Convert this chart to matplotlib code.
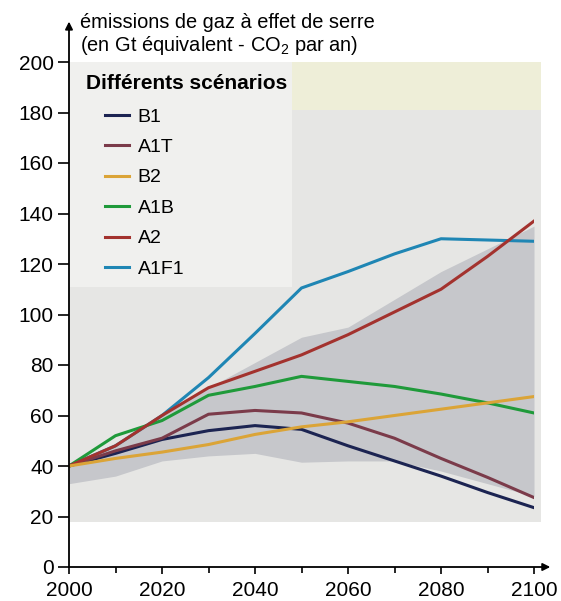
# Émissions de gaz à effet de serre selon les scénarios du GIEC (2000-2100)
import matplotlib.pyplot as plt
from matplotlib.patches import Rectangle
from matplotlib.lines import Line2D

plt.rcParams['font.family'] = 'Liberation Sans'
plt.rcParams['mathtext.fontset'] = 'custom'
plt.rcParams['mathtext.rm'] = 'Liberation Sans'

# Données (Gt équivalent CO2 par an)
annees = [2000, 2010, 2020, 2030, 2040, 2050, 2060, 2070, 2080, 2090, 2100]
B1 = [40, 45, 50.5, 54, 56, 54.5, 48, 42, 36, 29.5, 23.5]
A1T = [40, 46, 51, 60.5, 62, 61, 57, 51, 43, 35.5, 27.5]
B2 = [40, 43, 45.5, 48.5, 52.5, 55.5, 57.5, 60, 62.5, 65, 67.5]
A1B = [40, 52, 58, 68, 71.5, 75.5, 73.5, 71.5, 68.5, 65, 61]
A2 = [40, 48, 60, 71, 77.5, 84, 92, 101, 110, 123, 137]
A1F1 = [40, 48, 60, 75, 92.5, 110.5, 117, 124, 130, 129.5, 129]

# Fourchette des autres scénarios (zone grise)
fourchette_haut = [41, 49, 60, 71, 81, 91, 95, 106, 117, 126, 135]
fourchette_bas = [33, 36, 42, 44, 45, 41.5, 42, 42, 38, 33, 28]

scenarios = ['B1', 'A1T', 'B2', 'A1B', 'A2', 'A1F1']
series = [B1, A1T, B2, A1B, A2, A1F1]
couleurs = ['#1c2452', '#7b3b4a', '#dba437', '#1f9a3a', '#a3322e', '#1f86b4']
ordre_trace = [5, 3, 0, 1, 4, 2]

fig = plt.figure(figsize=(5.61, 6.01), dpi=100)
ax = fig.add_axes([69 / 561, 1 - 567 / 601, 465 / 561, 505 / 601])
ax.set_xlim(2000, 2100)
ax.set_ylim(0, 200)

# Fonds imprimés
ax.add_patch(Rectangle((2000, 18), 101.5, 182, facecolor='#e6e6e4',
                       edgecolor='none', zorder=0, clip_on=False))
ax.add_patch(Rectangle((2048, 181), 53.5, 19, facecolor='#eeeed8',
                       edgecolor='none', zorder=0.1, clip_on=False))
ax.add_patch(Rectangle((2000, 111), 48, 89, facecolor='#f0f0ee',
                       edgecolor='none', zorder=0.1))

ax.fill_between(annees, fourchette_bas, fourchette_haut, color='#c6c7cb',
                linewidth=0, zorder=1)

for i in ordre_trace:
    ax.plot(annees, series[i], color=couleurs[i], lw=2.2, zorder=3,
            solid_joinstyle='round')

# Axes avec flèches
for s in ax.spines.values():
    s.set_visible(False)
ax.annotate('', xy=(0, 1.08), xytext=(0, 0), xycoords='axes fraction',
            arrowprops=dict(arrowstyle='-|>', lw=1.3, color='black',
                            mutation_scale=11, shrinkA=0, shrinkB=0))
ax.annotate('', xy=(1.035, 0), xytext=(0, 0), xycoords='axes fraction',
            arrowprops=dict(arrowstyle='-|>', lw=1.3, color='black',
                            mutation_scale=11, shrinkA=0, shrinkB=0))

ax.set_yticks(range(0, 201, 20))
ax.set_xticks(range(2000, 2101, 20))
ax.set_xticks(range(2010, 2100, 20), minor=True)
ax.tick_params(axis='y', direction='out', length=8, width=1.2, labelsize=15, pad=3)
ax.tick_params(axis='x', which='major', direction='out', length=5, width=1.2,
               labelsize=15, pad=5)
ax.tick_params(axis='x', which='minor', direction='out', length=4, width=1.2)

ax.text(0.024, 1.097, 'émissions de gaz à effet de serre\n'
        r'(en Gt équivalent - CO$_\mathrm{2}$ par an)',
        transform=ax.transAxes, ha='left', va='top', fontsize=14.4,
        linespacing=1.1)

# Légende
ax.text(0.037, 0.958, 'Différents scénarios', transform=ax.transAxes,
        ha='left', va='center', fontsize=15, fontweight='bold', zorder=5)
poignees = [Line2D([], [], color=c, lw=2.2) for c in couleurs]
ax.legend(poignees, scenarios, loc='upper left', bbox_to_anchor=(0.077, 0.909),
          frameon=False, fontsize=14, handlelength=1.25, handletextpad=0.45,
          labelspacing=0.66, borderpad=0, borderaxespad=0)

fig.savefig('out.png', dpi=100)
